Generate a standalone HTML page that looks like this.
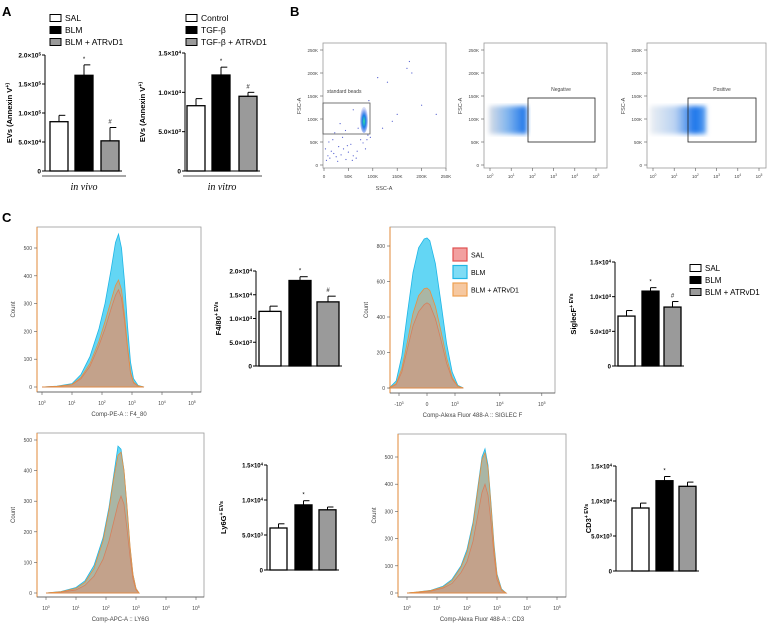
<!DOCTYPE html>
<html><head><meta charset="utf-8"><style>
html,body{margin:0;padding:0;background:#fff}
svg{display:block;font-family:"Liberation Sans",Arial,sans-serif}
</style></head><body>
<svg id="fig" width="768" height="627" viewBox="0 0 768 627" xmlns="http://www.w3.org/2000/svg">
<defs>
<radialGradient id="clus" cx="50%" cy="55%" r="50%"><stop offset="0" stop-color="#30e0a0"/><stop offset="0.45" stop-color="#1a7ee8"/><stop offset="1" stop-color="#3050e0" stop-opacity="0.2"/></radialGradient>
<linearGradient id="blob2" x1="0" x2="1"><stop offset="0" stop-color="#d8dde6"/><stop offset="0.5" stop-color="#7fb4ee"/><stop offset="1" stop-color="#1670e8"/></linearGradient>
<linearGradient id="blob3" x1="0" x2="1"><stop offset="0" stop-color="#eceff3"/><stop offset="0.45" stop-color="#b9d2f2"/><stop offset="0.8" stop-color="#1a74ea"/><stop offset="1" stop-color="#5aa0f0"/></linearGradient>
<filter id="blur"><feGaussianBlur stdDeviation="2.5"/></filter>
</defs>
<g id="root"></g>
</svg>
<script>
// ---------- Data ----------
const groupsA1 = ["SAL","BLM","BLM + ATRvD1"];
const valsA1 = [85000,165000,52000];
const errsA1 = [11000,18000,23000];
const marksA1 = ["","*","#"];
const ticksA1 = [0,50000,100000,150000,200000];
const tickLabA1 = ["0","5.0×10^4","1.0×10^5","1.5×10^5","2.0×10^5"];

const groupsA2 = ["Control","TGF-β","TGF-β + ATRvD1"];
const valsA2 = [8300,12200,9500];
const errsA2 = [900,1000,500];
const marksA2 = ["","*","#"];
const ticks15 = [0,5000,10000,15000];
const tickLab15 = ["0","5.0×10^3","1.0×10^4","1.5×10^4"];
const ticks20 = [0,5000,10000,15000,20000];
const tickLab20 = ["0","5.0×10^3","1.0×10^4","1.5×10^4","2.0×10^4"];

const valsF4 = [11500,18000,13500];
const errsF4 = [1100,800,1200];
const marksF4 = ["","*","#"];
const valsSig = [7200,10800,8500];
const errsSig = [800,500,800];
const marksSig = ["","*","#"];
const valsLy = [6000,9300,8600];
const errsLy = [600,600,400];
const marksLy = ["","*",""];
const valsCD3 = [9000,12900,12100];
const errsCD3 = [700,600,600];
const marksCD3 = ["","*",""];

// histogram data (x in decades / display units, counts)
const h1X = [0,0.5,1,1.3,1.6,1.9,2.1,2.3,2.45,2.55,2.65,2.75,2.85,2.95,3.05,3.2,3.4];
const h1BLM = [0,3,12,45,110,210,300,420,520,550,500,380,220,90,30,6,0];
const h1SAL = [0,2,8,30,75,150,210,280,330,350,320,240,140,50,15,3,0];
const h1ATR = [0,2,9,35,85,165,235,310,365,385,350,260,150,55,18,4,0];
const h2X = [-1.35,-1.1,-0.9,-0.7,-0.5,-0.3,-0.1,0,0.1,0.3,0.5,0.7,0.9,1.1,1.3];
const h2BLM = [0,40,180,420,650,790,840,845,830,700,480,250,90,15,0];
const h2ATR = [0,25,110,260,420,520,560,563,550,460,320,170,60,10,0];
const h2SAL = [0,20,90,220,350,430,470,480,470,390,270,140,50,8,0];
const h3X = [0,0.5,1,1.3,1.6,1.9,2.1,2.25,2.4,2.5,2.6,2.7,2.8,2.9,3.0,3.1];
const h3BLM = [0,5,18,40,90,180,280,380,480,470,400,280,150,60,15,0];
const h3ATR = [0,4,15,35,80,170,270,370,450,460,400,285,155,60,15,0];
const h3SAL = [0,3,10,25,55,110,170,230,290,317,290,210,120,45,10,0];
const h4X = [0,0.3,0.8,1.2,1.5,1.8,2.0,2.2,2.35,2.5,2.6,2.7,2.8,2.9,3.0,3.15,3.3];
const h4BLM = [0,3,10,25,50,100,160,260,380,500,530,470,330,180,70,15,0];
const h4ATR = [0,3,9,22,45,95,150,250,370,490,515,460,320,170,65,12,0];
const h4SAL = [0,2,7,18,35,75,115,190,280,370,400,360,260,140,50,10,0];

// scatter (SSC K, FSC K)
const scatX = [5,8,12,15,20,25,30,35,40,45,50,55,60,10,18,28,38,48,58,68,75,80,3,22,33,44,66,120,150,170,175,180,95,110,200,140,60,85,70,130,230,90,92,88];
const scatY = [10,20,15,30,25,18,40,22,35,12,28,45,20,50,55,8,60,42,10,30,55,48,35,70,90,75,15,80,110,210,225,200,60,190,130,95,120,35,80,180,110,65,140,55];

// ---------- Helpers ----------
const NS="http://www.w3.org/2000/svg";
const root=document.getElementById('root');
function el(tag,attrs,parent){const e=document.createElementNS(NS,tag);for(const k in attrs)e.setAttribute(k,attrs[k]);(parent||root).appendChild(e);return e;}
function txt(s,attrs,parent){const e=el('text',attrs,parent);
  const parts=s.split('^');e.appendChild(document.createTextNode(parts[0]));
  if(parts[1]!==undefined){const t=document.createElementNS(NS,'tspan');t.setAttribute('baseline-shift','super');t.setAttribute('font-size','70%');t.textContent=parts[1];e.appendChild(t);}
  return e;}

// panel letters
[["A",2,16],["B",290,16],["C",2,222]].forEach(([l,x,y])=>{
  const t=txt(l,{x:x,y:y,'font-size':13,'font-weight':'bold'});
  
  
});

const fills=['#fff','#000','#9a9a9a'];

function barChart(o){
  const g=el('g',{});
  
  
  const y=v=>o.y0-v/o.max*(o.y0-o.yTop);
  el('line',{x1:o.ax,y1:o.yTop,x2:o.ax,y2:o.y0,stroke:'#000','stroke-width':1},g);
  el('line',{x1:o.ax,y1:o.y0,x2:o.lefts[2]+o.w+3,y2:o.y0,stroke:'#000','stroke-width':1},g);
  o.ticks.forEach((t,i)=>{
    el('line',{x1:o.ax-3,y1:y(t),x2:o.ax,y2:y(t),stroke:'#000'},g);
    const tl=txt(o.tickLabels[i],{x:o.ax-4,y:y(t)+2.5,'font-size':o.fs||6.5,'font-weight':'bold','text-anchor':'end'},g);
    
    
  });
  o.vals.forEach((v,i)=>{
    const x=o.lefts[i],top=y(v),et=y(v+o.errs[i]),cx=x+o.w/2;
    el('line',{x1:cx,y1:top,x2:cx,y2:et,stroke:'#000','stroke-width':1},g);
    el('line',{x1:cx,y1:et,x2:cx+o.w*0.35,y2:et,stroke:'#000','stroke-width':1},g);
    const r=el('rect',{x:x,y:top,width:o.w,height:o.y0-top,fill:fills[i],stroke:'#000','stroke-width':1.3},g);
    
    
    if(o.marks[i]){txt(o.marks[i],{x:cx,y:et-4,'font-size':6,'text-anchor':'middle'},g);}
  });
  const yl=txt(o.ylabel,{x:0,y:0,'font-size':o.lfs||7.5,'font-weight':'bold','text-anchor':'middle',transform:`translate(${o.lx},${(o.y0+o.yTop)/2}) rotate(-90)`},g);
  
  
  return g;
}

function legend(x,y0,dy,labels,name,fs){
  const g=el('g',{});
  
  
  labels.forEach((l,i)=>{
    const y=y0+i*dy;
    el('rect',{x:x,y:y-3.5,width:11,height:7,fill:fills[i],stroke:'#000','stroke-width':1},g);
    const t=txt(l,{x:x+15,y:y+3,'font-size':fs||8.5},g);
    
    
  });
}

// ---------- Panel A ----------
legend(50,18,12,groupsA1,'legend-in-vivo');
legend(186,18,12,groupsA2,'legend-in-vitro');
barChart({name:'chart-in-vivo',ax:45,y0:171,yTop:55,max:200000,lefts:[50,75,101],w:18,vals:valsA1,errs:errsA1,marks:marksA1,ticks:ticksA1,tickLabels:tickLab1fix(tickLabA1),ylabel:'EVs (Annexin V^+)',lx:12});
barChart({name:'chart-in-vitro',ax:185,y0:171,yTop:53,max:15000,lefts:[187,212,239],w:18,vals:valsA2,errs:errsA2,marks:marksA2,ticks:ticks15,tickLabels:tickLab15,ylabel:'EVs (Annexin V^+)',lx:145});
function tickLab1fix(a){return a;}
el('line',{x1:42,y1:176,x2:126,y2:176,stroke:'#888','stroke-width':1.5});
el('line',{x1:183,y1:176,x2:262,y2:176,stroke:'#888','stroke-width':1.5});
txt('in vivo',{x:84,y:190,'font-size':10,'font-style':'italic','text-anchor':'middle','font-family':'Liberation Serif, serif'});
txt('in vitro',{x:222,y:190,'font-size':10,'font-style':'italic','text-anchor':'middle','font-family':'Liberation Serif, serif'});

// ---------- Panel B ----------
function flowFrame(x1,y1,x2,y2,name){
  const r=el('rect',{x:x1,y:y1,width:x2-x1,height:y2-y1,fill:'none',stroke:'#999','stroke-width':0.8});
  
  
}
const fscTicks=[0,50,100,150,200,250];
function fscAxis(xLeft){
  fscTicks.forEach(v=>{const y=165-v*0.46;
    el('line',{x1:xLeft-3,y1:y,x2:xLeft,y2:y,stroke:'#555','stroke-width':0.6});
    txt(v===0?'0':v+'K',{x:xLeft-5,y:y+2,'font-size':4.5,'text-anchor':'end',fill:'#444'});});
  txt('FSC-A',{x:0,y:0,'font-size':5.5,'text-anchor':'middle',fill:'#444',transform:`translate(${xLeft-22},106) rotate(-90)`});
}
// B1
flowFrame(323,43,446,168,'scatter-plot-frame');
fscAxis(323);
fscTicks.forEach(v=>{const x=324+v*0.488;
  el('line',{x1:x,y1:168,x2:x,y2:171,stroke:'#555','stroke-width':0.6});
  txt(v===0?'0':v+'K',{x:x,y:178,'font-size':4.5,'text-anchor':'middle',fill:'#444'});});
txt('SSC-A',{x:384,y:190,'font-size':5.5,'text-anchor':'middle',fill:'#444'});
scatX.forEach((v,i)=>{
  const d=el('circle',{cx:324+v*0.488,cy:165-scatY[i]*0.46,r:0.6,fill:'#5560d0'});
  
  
});
el('rect',{x:323,y:103,width:47,height:31,fill:'none',stroke:'#555','stroke-width':0.8});
el('ellipse',{cx:364,cy:120,rx:4,ry:13,fill:'url(#clus)'});
txt('standard beads',{x:327,y:93,'font-size':5,fill:'#444'});
// B2/B3
function logXAxis(x0,step,yb){
  for(let d=0;d<=5;d++){const x=x0+d*step;
    el('line',{x1:x,y1:yb,x2:x,y2:yb+3,stroke:'#555','stroke-width':0.6});
    txt('10^'+d,{x:x,y:yb+10,'font-size':4.5,'text-anchor':'middle',fill:'#444'});}
}
flowFrame(484,43,607,168,'negative-plot-frame');fscAxis(484);logXAxis(490,21.2,168);
el('rect',{x:489,y:106,width:38,height:28,fill:'url(#blob2)',filter:'url(#blur)'});
el('rect',{x:528,y:98,width:67,height:44,fill:'none',stroke:'#222','stroke-width':0.8});
txt('Negative',{x:561,y:91,'font-size':5,'text-anchor':'middle',fill:'#444'});
flowFrame(647,43,766,168,'positive-plot-frame');fscAxis(647);logXAxis(653,21.2,168);
el('rect',{x:650,y:106,width:56,height:28,fill:'url(#blob3)',filter:'url(#blur)'});
el('rect',{x:688,y:98,width:68,height:44,fill:'none',stroke:'#222','stroke-width':0.8});
txt('Positive',{x:722,y:91,'font-size':5,'text-anchor':'middle',fill:'#444'});

// ---------- Panel C histograms ----------
const seriesStyle={BLM:{fill:'#52d2f3',stroke:'#20b6e6',op:0.9},SAL:{fill:'#d98080',stroke:'#d05040',op:0.55},ATR:{fill:'#d8a070',stroke:'#e89040',op:0.6}};
function hist(o){
  const g=el('g',{});
  
  
  const X=v=>o.x0+v*o.dx, Y=c=>o.yb-c*o.k;
  el('rect',{x:o.fx1,y:o.fy1,width:o.fx2-o.fx1,height:o.fy2-o.fy1,fill:'#fff',stroke:'#999','stroke-width':0.8},g);
  [['BLM',o.blm],['SAL',o.sal],['ATR',o.atr]].forEach(([k,arr])=>{
    const s=seriesStyle[k];
    let p=`M${X(o.xs[0])},${Y(0)} `+o.xs.map((v,i)=>`L${X(v)},${Y(arr[i])}`).join(' ')+` L${X(o.xs[o.xs.length-1])},${Y(0)} Z`;
    const path=el('path',{d:p,fill:s.fill,'fill-opacity':s.op,stroke:s.stroke,'stroke-width':0.8},g);
    
    
  });
  el('line',{x1:o.fx1,y1:o.fy1,x2:o.fx1,y2:o.fy2,stroke:'#e08a3a','stroke-width':1},g);
  el('line',{x1:o.fx1,y1:o.fy2,x2:o.fx2,y2:o.fy2,stroke:'#555','stroke-width':0.8},g);
  o.yt.forEach(t=>{el('line',{x1:o.fx1-3,y1:Y(t),x2:o.fx1,y2:Y(t),stroke:'#555','stroke-width':0.6},g);
    txt(String(t),{x:o.fx1-5,y:Y(t)+2,'font-size':5,'text-anchor':'end',fill:'#444'},g);});
  o.xt.forEach((t,i)=>{const x=X(o.xtPos[i]);
    el('line',{x1:x,y1:o.fy2,x2:x,y2:o.fy2+3,stroke:'#555','stroke-width':0.6},g);
    txt(t,{x:x,y:o.fy2+13,'font-size':5,'text-anchor':'middle',fill:'#444'},g);});
  txt('Count',{x:0,y:0,'font-size':6,'text-anchor':'middle',fill:'#444',transform:`translate(${o.fx1-22},${(o.fy1+o.fy2)/2}) rotate(-90)`},g);
  const xl=txt(o.xlabel,{x:(o.fx1+o.fx2)/2,y:o.fy2+24,'font-size':6,'text-anchor':'middle',fill:'#444'},g);
  
  
}
const decTicks=['10^0','10^1','10^2','10^3','10^4','10^5'], decPos=[0,1,2,3,4,5];
hist({name:'histogram-f4-80',fx1:37,fy1:227,fx2:201,fy2:392,x0:42,dx:30,yb:387,k:0.278,xs:h1X,blm:h1BLM,sal:h1SAL,atr:h1ATR,yt:[0,100,200,300,400,500],xt:decTicks,xtPos:decPos,xlabel:'Comp-PE-A :: F4_80'});
hist({name:'histogram-siglec-f',fx1:390,fy1:227,fx2:555,fy2:393,x0:427,dx:28,yb:388,k:0.1775,xs:h2X,blm:h2BLM,sal:h2SAL,atr:h2ATR,yt:[0,200,400,600,800],xt:['-10^3','0','10^3','10^4','10^5'],xtPos:[-1,0,1,2.6,4.1],xlabel:'Comp-Alexa Fluor 488-A :: SIGLEC F'});
hist({name:'histogram-ly6g',fx1:37,fy1:433,fx2:204,fy2:597,x0:46,dx:30,yb:593,k:0.306,xs:h3X,blm:h3BLM,sal:h3SAL,atr:h3ATR,yt:[0,100,200,300,400,500],xt:decTicks,xtPos:decPos,xlabel:'Comp-APC-A :: LY6G'});
hist({name:'histogram-cd3',fx1:398,fy1:434,fx2:566,fy2:597,x0:407,dx:30,yb:593,k:0.272,xs:h4X,blm:h4BLM,sal:h4SAL,atr:h4ATR,yt:[0,100,200,300,400,500],xt:decTicks,xtPos:decPos,xlabel:'Comp-Alexa Fluor 488-A :: CD3'});

// histogram legend
const hl=el('g',{});


[['SAL','#f2a0a0','#e05050'],['BLM','#7fdcf5','#20b6e6'],['BLM + ATRvD1','#f6c8a0','#eea050']].forEach(([l,f,s],i)=>{
  const y=248+i*17.5;
  el('rect',{x:453,y:y,width:14,height:13,fill:f,stroke:s,'stroke-width':1.2},hl);
  const t=txt(l,{x:471,y:y+9.5,'font-size':7},hl);
  
  
});

// ---------- Panel C bar charts ----------
barChart({name:'chart-f4-80',ax:256,y0:366,yTop:271,max:20000,lefts:[259,289,317],w:22,vals:valsF4,errs:errsF4,marks:marksF4,ticks:ticks20,tickLabels:tickLab20,ylabel:'F4/80^+ EVs',lx:221,fs:6.5});
barChart({name:'chart-siglec-f',ax:615,y0:366,yTop:262,max:15000,lefts:[618,642,664],w:17,vals:valsSig,errs:errsSig,marks:marksSig,ticks:ticks15,tickLabels:tickLab15,ylabel:'SiglecF^+ EVs',lx:576,fs:6});
legend(690,268,12,groupsA1,'legend-panel-c',8);
barChart({name:'chart-ly6g',ax:267,y0:570,yTop:465,max:15000,lefts:[270,295,319],w:17,vals:valsLy,errs:errsLy,marks:marksLy,ticks:ticks15,tickLabels:tickLab15,ylabel:'Ly6G^+ EVs',lx:226,fs:6});
barChart({name:'chart-cd3',ax:616,y0:571,yTop:466,max:15000,lefts:[632,656,679],w:17,vals:valsCD3,errs:errsCD3,marks:marksCD3,ticks:ticks15,tickLabels:tickLab15,ylabel:'CD3^+ EVs',lx:591,fs:6});
</script>
</body></html>
